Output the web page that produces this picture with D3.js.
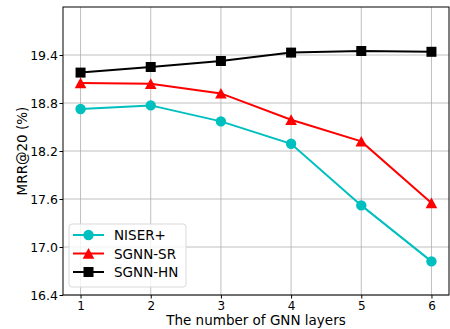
<!DOCTYPE html>
<html>
<head>
<meta charset="utf-8">
<script src="https://cdn.jsdelivr.net/npm/d3@7"></script>
<style>
  body { margin: 0; background: #fff; }
  svg text { font-family: "DejaVu Sans", sans-serif; fill: #000; }
</style>
</head>
<body>
<div id="chart"></div>
<script>
//Datos
const layers = [1, 2, 3, 4, 5, 6];
const niser = [18.725, 18.77, 18.57, 18.29, 17.52, 16.82];
const sgnnSR = [19.05, 19.04, 18.92, 18.59, 18.32, 17.55];
const sgnnHN = [19.18, 19.25, 19.325, 19.43, 19.45, 19.44];
const yTicks = [16.4, 17.0, 17.6, 18.2, 18.8, 19.4];

const series = [
    {name: 'NISER+', values: niser, color: '#00bfbf', marker: 'circle'},
    {name: 'SGNN-SR', values: sgnnSR, color: '#ff0000', marker: 'triangle'},
    {name: 'SGNN-HN', values: sgnnHN, color: '#000000', marker: 'square'}
];

let margin = {top: 7, right: 1, bottom: 34, left: 63},
    width = 450 - margin.left - margin.right,
    height = 329 - margin.top - margin.bottom;

let svg = d3.select('#chart')
    .append('svg')
        .attr('width', 450)
        .attr('height', 329)
    .append('g')
        .attr('transform', 'translate(' + margin.left + ',' + margin.top + ')');

let x = d3.scaleLinear().domain([0.75, 6.25]).range([0, width]);
let y = d3.scaleLinear().domain([16.4, 20.0]).range([height, 0]);

//Rejilla
svg.append('g')
    .selectAll('line')
    .data(layers)
    .enter()
    .append('line')
    .attr('x1', d => x(d)).attr('x2', d => x(d))
    .attr('y1', 0).attr('y2', height)
    .attr('stroke', '#b0b0b0').attr('stroke-width', 0.8);

svg.append('g')
    .selectAll('line')
    .data(yTicks)
    .enter()
    .append('line')
    .attr('x1', 0).attr('x2', width)
    .attr('y1', d => y(d)).attr('y2', d => y(d))
    .attr('stroke', '#b0b0b0').attr('stroke-width', 0.8);

//Ejes
let xAxis = function(g) {
    g.call(d3.axisBottom(x).tickValues(layers).tickFormat(d3.format('d')).tickSize(3.5).tickPadding(2.5));
    g.call(g => g.select('.domain').remove());
    g.selectAll('text').style('font-size', '12px');
};
svg.append('g').attr('transform', 'translate(0,' + height + ')').call(xAxis);

let yAxis = function(g) {
    g.call(d3.axisLeft(y).tickValues(yTicks).tickFormat(d3.format('.1f')).tickSize(3.5).tickPadding(1.5));
    g.call(g => g.select('.domain').remove());
    g.selectAll('text').style('font-size', '12.5px');
};
svg.append('g').call(yAxis);

//Marco
svg.append('rect')
    .attr('width', width).attr('height', height)
    .attr('fill', 'none').attr('stroke', '#000').attr('stroke-width', 1);

//Etiquetas
svg.append('text')
    .attr('x', width / 2).attr('y', height + 30)
    .attr('text-anchor', 'middle')
    .style('font-size', '13.5px')
    .text('The number of GNN layers');

svg.append('text')
    .attr('transform', 'translate(' + (-36) + ',' + (height / 2) + ') rotate(-90)')
    .attr('text-anchor', 'middle')
    .style('font-size', '13.5px')
    .text('MRR@20 (%)');

function drawMarker(g, type, color) {
    if (type == 'circle') {
        g.append('circle').attr('r', 5.2).attr('fill', color);
    } else if (type == 'triangle') {
        g.append('path').attr('d', 'M0,-5.5L5.8,5.2L-5.8,5.2Z').attr('fill', color);
    } else {
        g.append('rect').attr('x', -5).attr('y', -5).attr('width', 10).attr('height', 10).attr('fill', color);
    }
}

//Líneas
let line = d3.line()
    .x((d, i) => x(layers[i]))
    .y(d => y(d));

series.forEach(function(s) {
    svg.append('path')
        .datum(s.values)
        .attr('fill', 'none')
        .attr('stroke', s.color)
        .attr('stroke-width', 2)
        .attr('d', line);

    s.values.forEach(function(v, i) {
        let g = svg.append('g').attr('transform', 'translate(' + x(layers[i]) + ',' + y(v) + ')');
        drawMarker(g, s.marker, s.color);
    });
});

//Leyenda
let legend = svg.append('g').attr('transform', 'translate(6,217)');
legend.append('rect')
    .attr('width', 117).attr('height', 63).attr('rx', 3)
    .attr('fill', '#fff').attr('fill-opacity', 0.8)
    .attr('stroke', '#d9d9d9').attr('stroke-width', 1);

series.forEach(function(s, i) {
    let row = legend.append('g').attr('transform', 'translate(0,' + (11 + i * 18.5) + ')');
    row.append('line')
        .attr('x1', 4).attr('x2', 35)
        .attr('stroke', s.color).attr('stroke-width', 2);
    drawMarker(row.append('g').attr('transform', 'translate(19.5,0)'), s.marker, s.color);
    row.append('text')
        .attr('x', 45).attr('y', 5)
        .style('font-size', '13.5px')
        .text(s.name);
});
</script>
</body>
</html>
